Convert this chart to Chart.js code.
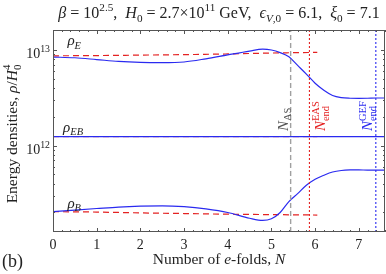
<!DOCTYPE html>
<html lang="en">
<head>
<meta charset="UTF-8">
<title>Energy densities</title>
<script src="https://cdn.jsdelivr.net/npm/chart.js"></script>
<style>
    html, body { margin: 0; padding: 0; background: #ffffff; }
    canvas { display: block; }
</style>
</head>
<body>
<canvas id="rhoChart" width="386" height="274"></canvas>
<script>
    // e-fold grid for the full (GEF) curves
    const nFull = [0, 0.5, 1, 1.5, 2, 2.5, 3, 3.5, 4, 4.5, 4.8, 5.0, 5.2, 5.4, 5.6, 5.8, 6.0, 6.2, 6.4, 6.6, 6.8, 7.0, 7.2, 7.4, 7.6];
    const rhoE = [8.45e12, 8.3e12, 7.95e12, 7.6e12, 7.42e12, 7.38e12, 7.5e12, 8.1e12, 8.9e12, 9.75e12, 1.02e13, 1.0e13, 9.4e12, 8.5e12, 6.9e12, 5.6e12, 4.5e12, 3.8e12, 3.35e12, 3.18e12, 3.13e12, 3.12e12, 3.13e12, 3.15e12, 3.15e12];
    const rhoB = [2.04e11, 2.12e11, 2.2e11, 2.28e11, 2.33e11, 2.35e11, 2.3e11, 2.18e11, 2.0e11, 1.74e11, 1.65e11, 1.72e11, 2.0e11, 2.6e11, 3.15e11, 3.85e11, 4.45e11, 4.9e11, 5.3e11, 5.5e11, 5.57e11, 5.58e11, 5.55e11, 5.55e11, 5.55e11];
    const rhoEBFull = [1.24e12, 1.24e12];
    const nEBFull = [0, 7.6];

    // e-fold grid for the dashed (EAS) curves
    const nEas = [0, 1, 2, 3, 4, 5, 6.05];
    const rhoEEas = [8.7e12, 8.75e12, 8.85e12, 8.95e12, 9.1e12, 9.3e12, 9.45e12];
    const rhoBEas = [2.04e11, 2.02e11, 1.98e11, 1.95e11, 1.92e11, 1.9e11, 1.88e11];
    const rhoEBEas = [1.24e12, 1.24e12, 1.24e12, 1.24e12, 1.24e12, 1.24e12, 1.24e12];

    // vertical markers: N_AS, N_end^EAS, N_end^GEF
    const markerN = [5.44, 5.87, 7.39];

    const xTicks = [0, 1, 2, 3, 4, 5, 6, 7];
    const yTicks = [1e12, 1e13];

    const yMin = 1.25e11, yMax = 1.62e13;
    const BLUE = '#2a2af0', RED = '#e42222', GRAY = '#a0a0a0', INK = '#222222';
    const FONT = '"Liberation Serif", "DejaVu Serif", serif';

    const pts = (xs, ys) => xs.map((x, i) => ({ x: x, y: ys[i] }));
    const vline = n => [{ x: n, y: yMin }, { x: n, y: yMax }];

    // draws text made of pieces: {t, it, sup, sub, pair:[sup,sub]}
    function richWidth(ctx, segs, size) {
        let w = 0;
        for (const s of segs) {
            if (s.pair) {
                ctx.font = (size * 0.7) + 'px ' + FONT;
                w += Math.max(ctx.measureText(s.pair[0]).width, ctx.measureText(s.pair[1]).width);
            } else {
                const sz = (s.sup || s.sub) ? size * 0.7 : size;
                ctx.font = (s.it ? 'italic ' : '') + sz + 'px ' + FONT;
                w += ctx.measureText(s.t).width;
            }
        }
        return w;
    }
    function drawRich(ctx, segs, x, y, size, align, color) {
        ctx.fillStyle = color;
        ctx.textBaseline = 'alphabetic';
        ctx.textAlign = 'left';
        const w = richWidth(ctx, segs, size);
        let cx = align === 'center' ? x - w / 2 : (align === 'right' ? x - w : x);
        for (const s of segs) {
            if (s.pair) {
                ctx.font = (size * 0.7) + 'px ' + FONT;
                ctx.fillText(s.pair[0], cx, y - size * 0.42);
                ctx.fillText(s.pair[1], cx, y + size * 0.25);
                cx += Math.max(ctx.measureText(s.pair[0]).width, ctx.measureText(s.pair[1]).width);
                continue;
            }
            const sz = (s.sup || s.sub) ? size * 0.7 : size;
            ctx.font = (s.it ? 'italic ' : '') + sz + 'px ' + FONT;
            let dy = 0;
            if (s.sup) dy = -size * 0.42;
            if (s.sub) dy = size * 0.22;
            ctx.fillText(s.t, cx, y + dy);
            cx += ctx.measureText(s.t).width;
        }
    }

    const framePlugin = {
        id: 'frame',
        afterDraw(chart) {
            const ctx = chart.ctx;
            const a = chart.chartArea;
            const xs = chart.scales.x, ys = chart.scales.y;
            ctx.save();

            // frame
            ctx.strokeStyle = '#555555';
            ctx.lineWidth = 1;
            ctx.strokeRect(a.left + 0.5, a.top + 0.5, a.right - a.left - 1, a.bottom - a.top - 1);

            // x ticks, inward on bottom and top
            ctx.beginPath();
            for (let k = 0; k <= 38; k++) {
                const v = k / 5;
                const px = Math.round(xs.getPixelForValue(v)) + 0.5;
                const len = (k % 5 === 0) ? 4 : 2;
                ctx.moveTo(px, a.bottom); ctx.lineTo(px, a.bottom - len);
                ctx.moveTo(px, a.top); ctx.lineTo(px, a.top + len);
            }
            // y ticks, inward on left and right
            for (let e = 11; e <= 13; e++) {
                for (let m = 1; m <= 9; m++) {
                    const v = m * Math.pow(10, e);
                    if (v < yMin || v > yMax) continue;
                    const py = Math.round(ys.getPixelForValue(v)) + 0.5;
                    const len = (m === 1) ? 4 : 2;
                    ctx.moveTo(a.left, py); ctx.lineTo(a.left + len, py);
                    ctx.moveTo(a.right, py); ctx.lineTo(a.right - len, py);
                }
            }
            ctx.stroke();

            // tick labels
            ctx.fillStyle = INK;
            ctx.font = '14px ' + FONT;
            ctx.textAlign = 'center';
            ctx.textBaseline = 'alphabetic';
            xTicks.forEach(v => ctx.fillText(String(v), xs.getPixelForValue(v), a.bottom + 17));
            yTicks.forEach(v => {
                const e = Math.round(Math.log10(v));
                drawRich(ctx, [{ t: '10' }, { t: String(e), sup: true }], a.left - 3, ys.getPixelForValue(v) + 8, 14, 'right', INK);
            });

            // title
            drawRich(ctx, [
                { t: 'β', it: true }, { t: ' = 10' }, { t: '2.5', sup: true }, { t: ',  ' },
                { t: 'H', it: true }, { t: '0', sub: true }, { t: ' = 2.7×10' }, { t: '11', sup: true }, { t: ' GeV,  ' },
                { t: 'ϵ', it: true }, { t: 'V', it: true, sub: true }, { t: ',0', sub: true }, { t: ' = 6.1,  ' },
                { t: 'ξ', it: true }, { t: '0', sub: true }, { t: ' = 7.1' }
            ], (a.left + a.right) / 2, 18, 16, 'center', INK);

            // x axis label and panel tag
            drawRich(ctx, [{ t: 'Number of ' }, { t: 'e', it: true }, { t: '-folds, ' }, { t: 'N', it: true }],
                (a.left + a.right) / 2, 264, 15.5, 'center', INK);
            drawRich(ctx, [{ t: '(b)' }], 2, 267, 18, 'left', INK);

            // y axis label
            ctx.save();
            ctx.translate(17, (a.top + a.bottom) / 2 + 3);
            ctx.rotate(-Math.PI / 2);
            drawRich(ctx, [{ t: 'Energy densities, ' }, { t: 'ρ', it: true }, { t: '/' }, { t: 'H', it: true }, { pair: ['4', '0'] }],
                0, 0, 15.5, 'center', INK);
            ctx.restore();

            // curve names
            drawRich(ctx, [{ t: 'ρ', it: true }, { t: 'E', it: true, sub: true }], xs.getPixelForValue(0.33), ys.getPixelForValue(1.12e13), 15, 'left', INK);
            drawRich(ctx, [{ t: 'ρ', it: true }, { t: 'EB', it: true, sub: true }], xs.getPixelForValue(0.23), ys.getPixelForValue(1.4e12), 15, 'left', INK);
            drawRich(ctx, [{ t: 'ρ', it: true }, { t: 'B', it: true, sub: true }], xs.getPixelForValue(0.33), ys.getPixelForValue(2.25e11), 15, 'left', INK);

            // marker names, rotated
            const rot = (n, dx, segs, color) => {
                ctx.save();
                ctx.translate(xs.getPixelForValue(n) + dx, ys.getPixelForValue(1.42e12));
                ctx.rotate(-Math.PI / 2);
                drawRich(ctx, segs, 0, 0, 15, 'left', color);
                ctx.restore();
            };
            rot(markerN[0], -3, [{ t: 'N', it: true }, { t: 'AS', sub: true }], '#555555');
            rot(markerN[1], 16, [{ t: 'N', it: true }, { pair: ['EAS', 'end'] }], RED);
            rot(markerN[2], -4, [{ t: 'N', it: true }, { pair: ['GEF', 'end'] }], BLUE);

            ctx.restore();
        }
    };

    const solid = (data, color) => ({ data: data, borderColor: color, borderWidth: 1.2, pointRadius: 0, fill: false, cubicInterpolationMode: 'monotone' });
    const dashed = (data, color) => ({ data: data, borderColor: color, borderWidth: 1.2, borderDash: [6, 4], pointRadius: 0, fill: false, cubicInterpolationMode: 'monotone' });

    new Chart(document.getElementById('rhoChart').getContext('2d'), {
        type: 'line',
        data: {
            datasets: [
                { data: vline(markerN[0]), borderColor: GRAY, borderWidth: 1.4, borderDash: [5, 3], pointRadius: 0 },
                { data: vline(markerN[1]), borderColor: RED, borderWidth: 1.1, borderDash: [2, 2], pointRadius: 0 },
                { data: vline(markerN[2]), borderColor: BLUE, borderWidth: 1.1, borderDash: [2, 2], pointRadius: 0 },
                solid(pts(nFull, rhoE), BLUE),
                solid(pts(nFull, rhoB), BLUE),
                solid(pts(nEBFull, rhoEBFull), BLUE),
                dashed(pts(nEas, rhoEEas), RED),
                dashed(pts(nEas, rhoBEas), RED),
                dashed(pts(nEas, rhoEBEas), 'rgba(228,34,34,0.6)')
            ]
        },
        options: {
            responsive: false,
            animation: false,
            devicePixelRatio: 1,
            layout: { padding: { left: 53, right: 1, top: 30, bottom: 42 } },
            plugins: { legend: { display: false }, tooltip: { enabled: false } },
            scales: {
                x: { type: 'linear', min: 0, max: 7.6, display: false },
                y: { type: 'logarithmic', min: yMin, max: yMax, display: false }
            }
        },
        plugins: [framePlugin]
    });
</script>
</body>
</html>
